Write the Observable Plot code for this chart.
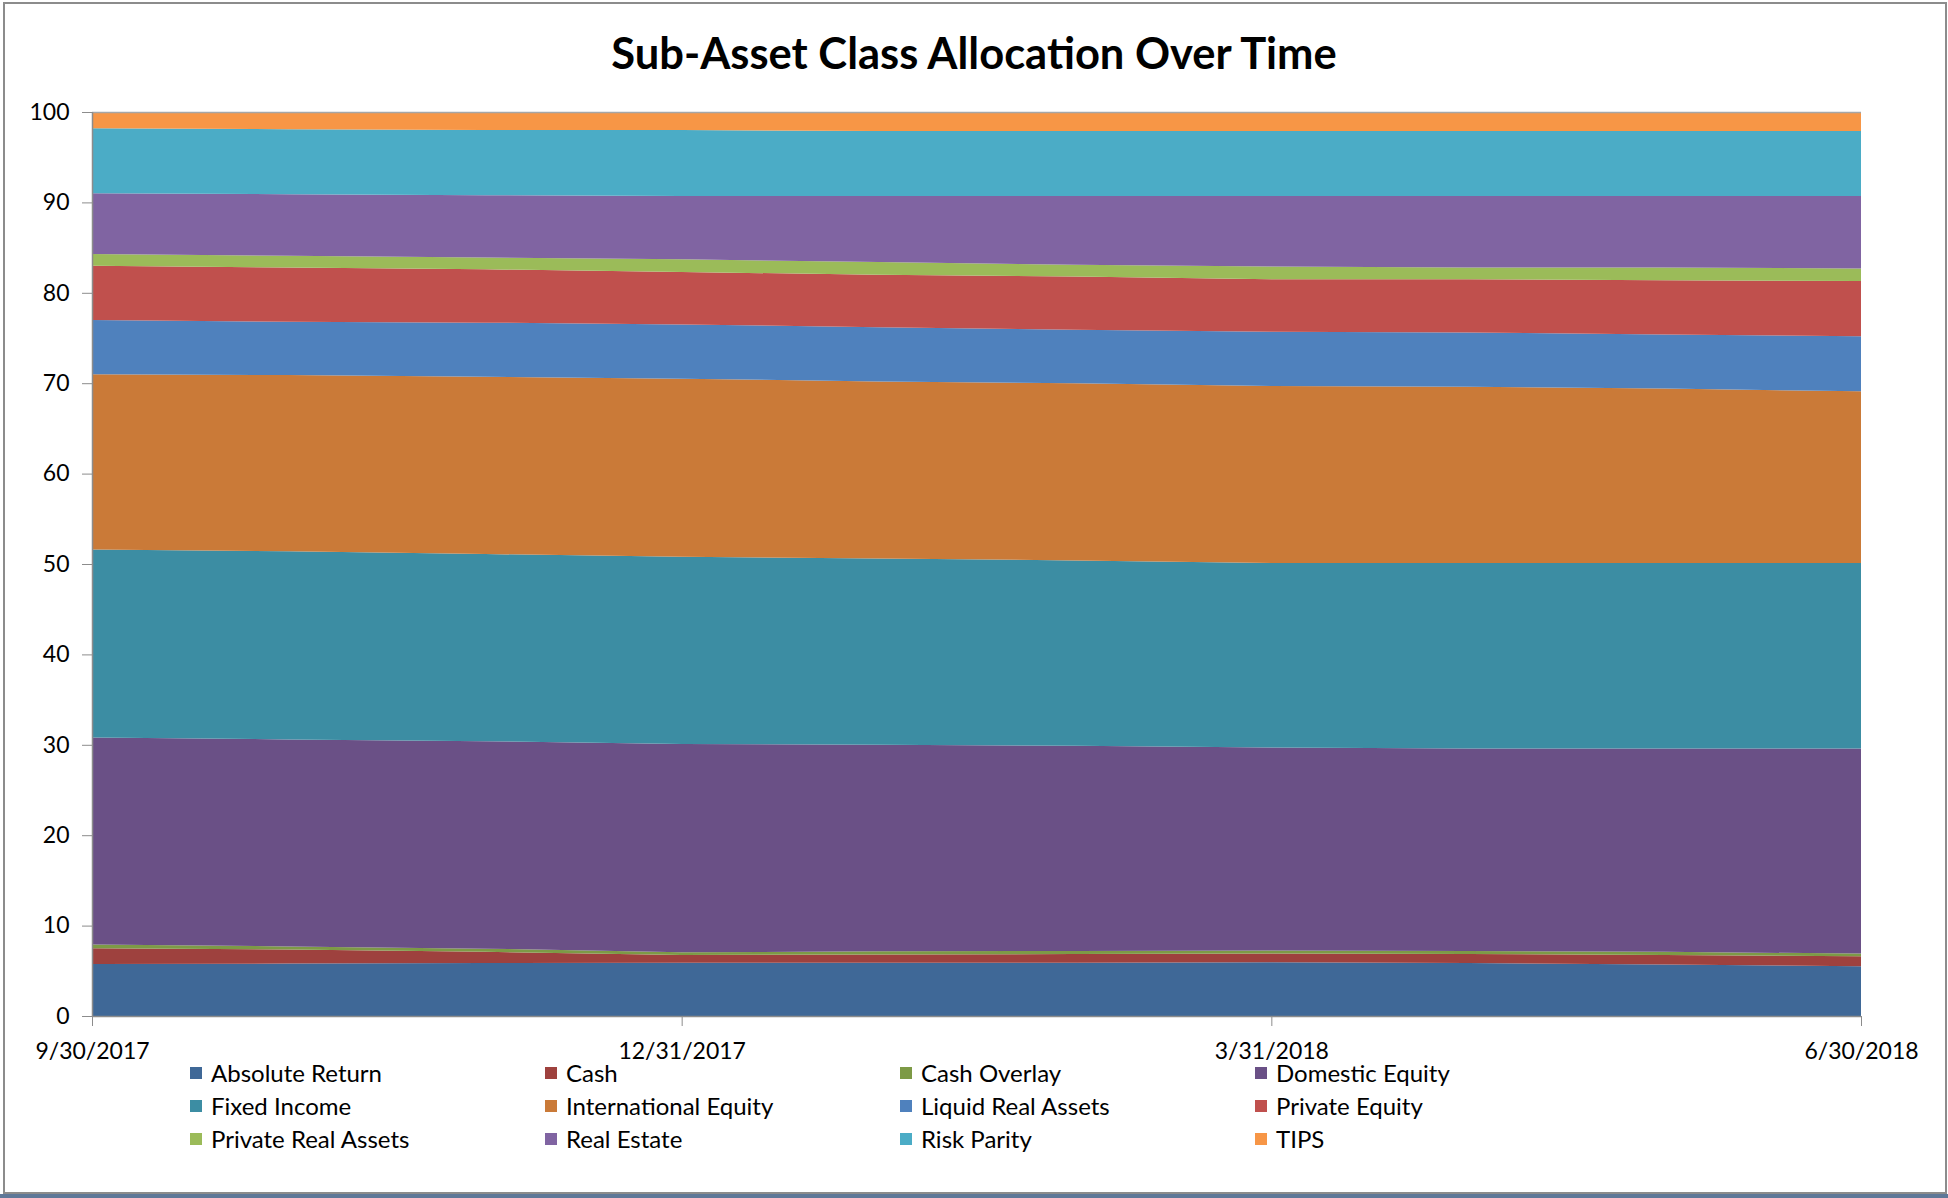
<!DOCTYPE html>
<html>
<head>
<meta charset="utf-8">
<script src="https://cdn.jsdelivr.net/npm/d3@7"></script>
<script src="https://cdn.jsdelivr.net/npm/@observablehq/plot@0.6"></script>
<style>
  html, body { margin: 0; padding: 0; background: #fff; }
  #page { position: relative; width: 1948px; height: 1198px; overflow: hidden; font-family: Lato, "Open Sans", sans-serif; }
  #frame { position: absolute; left: 3px; top: 2px; width: 1940px; height: 1188px; border: 2px solid #8c8c8c; }
  #bar { position: absolute; left: 0; top: 1194px; width: 1948px; height: 4px; background: #5f7898; }
  #title { position: absolute; left: 0; top: 0; width: 1948px; height: 104px; line-height: 104px; text-align: center; font-weight: 700; font-size: 43.5px; color: #000; }
  #chart { position: absolute; left: 0; top: 80px; }
  #legend { position: absolute; left: 190px; top: 1056px; display: grid; grid-template-columns: repeat(4, 355px); grid-auto-rows: 33px; font-size: 24px; color: #000; }
  .item { display: flex; align-items: center; white-space: nowrap; }
  .sw { width: 12px; height: 12px; margin-right: 9px; flex: none; }
</style>
</head>
<body>
<div id="page">
  <div id="frame"></div>
  <div id="bar"></div>
  <div id="title">Sub-Asset Class Allocation Over Time</div>
  <div id="chart"></div>
  <div id="legend"></div>
</div>
<script>
// Month-end dates (Excel date axis with monthly base unit)
const months = ["2017-09-30","2017-10-31","2017-11-30","2017-12-31","2018-01-31","2018-02-28","2018-03-31","2018-04-30","2018-05-31","2018-06-30"];
const tickMonths = [0, 3, 6, 9];
const tickLabels = ["9/30/2017", "12/31/2017", "3/31/2018", "6/30/2018"];
const yTicks = [0, 10, 20, 30, 40, 50, 60, 70, 80, 90, 100];

const names = ["Absolute Return","Cash","Cash Overlay","Domestic Equity","Fixed Income","International Equity","Liquid Real Assets","Private Equity","Private Real Assets","Real Estate","Risk Parity","TIPS"];
const colors = ["#3F6897","#9E413E","#7D9A46","#6A5086","#3C8DA3","#CA7A38","#4F81BD","#C0504D","#9BBB59","#8064A2","#4BACC6","#F79646"];

// Percent allocations per month
const absoluteReturn      = [5.75, 5.8, 5.85, 5.9, 5.9, 5.9, 5.95, 5.85, 5.7, 5.5];
const cash                = [1.75, 1.55, 1.25, 0.85, 0.9, 0.95, 0.95, 1.0, 1.05, 1.1];
const cashOverlay         = [0.4, 0.35, 0.35, 0.3, 0.35, 0.35, 0.35, 0.35, 0.35, 0.3];
const domesticEquity      = [22.9, 22.9, 22.95, 23.05, 22.85, 22.7, 22.45, 22.4, 22.5, 22.7];
const fixedIncome         = [20.8, 20.8, 20.7, 20.7, 20.6, 20.5, 20.4, 20.5, 20.5, 20.5];
const internationalEquity = [19.4, 19.5, 19.6, 19.7, 19.6, 19.6, 19.6, 19.5, 19.3, 19.0];
const liquidRealAssets    = [6.0, 5.9, 6.0, 6.0, 6.0, 5.9, 6.0, 6.0, 6.0, 6.1];
const privateEquity       = [6.0, 6.0, 5.9, 5.8, 5.8, 5.9, 5.8, 5.9, 6.0, 6.1];
const privateRealAssets   = [1.3, 1.3, 1.3, 1.4, 1.4, 1.3, 1.4, 1.3, 1.4, 1.4];
const realEstate          = [6.7, 6.8, 6.9, 7.0, 7.3, 7.6, 7.8, 7.9, 7.9, 8.0];
const riskParity          = [7.2, 7.2, 7.2, 7.3, 7.2, 7.2, 7.2, 7.2, 7.2, 7.2];
const tips                = [1.8, 1.9, 2.0, 2.0, 2.1, 2.1, 2.1, 2.1, 2.1, 2.1];

const seriesValues = [absoluteReturn, cash, cashOverlay, domesticEquity, fixedIncome, internationalEquity, liquidRealAssets, privateEquity, privateRealAssets, realEstate, riskParity, tips];

const rows = [];
names.forEach((name, s) => {
  months.forEach((d, i) => rows.push({ m: i, date: d, name, value: seriesValues[s][i] }));
});

const chart = Plot.plot({
  width: 1948,
  height: 1000,
  marginTop: 32,
  marginLeft: 92,
  marginRight: 87,
  marginBottom: 64,
  style: { fontFamily: "Lato, 'Open Sans', sans-serif", fontSize: "23px", color: "#000", background: "transparent", overflow: "visible" },
  x: { type: "linear", domain: [0, months.length - 1], label: null },
  y: { domain: [0, 100], label: null },
  color: { domain: names, range: colors },
  marks: [
    Plot.areaY(rows, { x: "m", y: "value", z: "name", fill: "name", order: names }),
    Plot.ruleY([100], { stroke: "#a6a6a6", strokeWidth: 1.5 }),
    Plot.ruleX([0], { stroke: "#8c8c8c", strokeWidth: 1.5 }),
    Plot.ruleY([0], { stroke: "#8c8c8c", strokeWidth: 1.5 }),
    Plot.axisY({ ticks: yTicks, tickSize: 10, tickPadding: 13, stroke: "#8c8c8c", fill: "#000", label: null }),
    Plot.axisX({ ticks: tickMonths, tickFormat: (d) => tickLabels[tickMonths.indexOf(d)], tickSize: 10, tickPadding: 16, stroke: "#8c8c8c", fill: "#000", label: null })
  ]
});
document.getElementById("chart").appendChild(chart);

const legend = document.getElementById("legend");
names.forEach((n, i) => {
  const item = document.createElement("div");
  item.className = "item";
  const sw = document.createElement("span");
  sw.className = "sw";
  sw.style.background = colors[i];
  const t = document.createElement("span");
  t.textContent = n;
  item.appendChild(sw);
  item.appendChild(t);
  legend.appendChild(item);
});
</script>
</body>
</html>
